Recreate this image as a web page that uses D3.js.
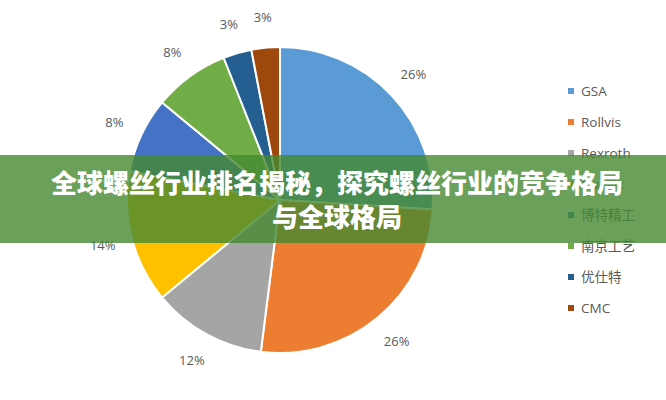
<!DOCTYPE html>
<html><head><meta charset="utf-8">
<script src="https://cdn.jsdelivr.net/npm/d3@7"></script>
<style>
html,body{margin:0;padding:0;background:#fff;}
svg{display:block;}
</style></head>
<body>
<svg id="c" width="666" height="400"></svg>
<script>
const categories = ["GSA","Rollvis","Rexroth","Ewellix","博特精工","南京工艺","优仕特","CMC"];
const values = [26,26,12,14,8,8,3,3];
const colors = ["#5B9BD5","#ED7D31","#A5A5A5","#FFC000","#4472C4","#70AD47","#255E91","#9E480E"];
const titleLines = ["全球螺丝行业排名揭秘，探究螺丝行业的竞争格局","与全球格局"];

const svg = d3.select("#c");
const W = 666, H = 400;
const cx = 280, cy = 200, R = 153;

const data = categories.map((c,i)=>({name:c, value:values[i], color:colors[i]}));
const pie = d3.pie().value(d=>d.value).sort(null);
const arcs = pie(data);
const arc = d3.arc().innerRadius(0).outerRadius(R);
const labelArc = d3.arc().innerRadius(R+30).outerRadius(R+30);

const g = svg.append("g").attr("transform",`translate(${cx},${cy})`);
g.selectAll("path.slice").data(arcs).enter().append("path")
  .attr("class","slice")
  .attr("d",arc)
  .attr("fill",d=>d.data.color)
  .attr("stroke","#fff")
  .attr("stroke-width",2)
  .attr("stroke-linejoin","round");

const total = d3.sum(values);
g.selectAll("text.lbl").data(arcs).enter().append("text")
  .attr("class","lbl")
  .attr("transform",d=>{const [x,y]=labelArc.centroid(d);return `translate(${x},${y})`;})
  .attr("text-anchor","middle")
  .attr("dy","0.35em")
  .attr("font-family","'Open Sans','Noto Sans',sans-serif")
  .attr("font-size",13)
  .attr("fill","#595959")
  .text(d=>Math.round(d.data.value/total*100)+"%");

// legend
const ly = d3.scalePoint().domain(categories).range([91,308]);
const leg = svg.append("g");
leg.selectAll("rect").data(data).enter().append("rect")
  .attr("x",568).attr("y",d=>ly(d.name)-3).attr("width",6).attr("height",6)
  .attr("fill",d=>d.color);
leg.selectAll("text").data(data).enter().append("text")
  .attr("x",581).attr("y",d=>ly(d.name)).attr("dy","0.35em")
  .attr("font-family","'Open Sans','Noto Sans CJK SC',sans-serif")
  .attr("font-size",13.5)
  .attr("fill","#595959")
  .text(d=>d.name);

// banner overlay
svg.append("rect").attr("x",0).attr("y",155).attr("width",W).attr("height",88)
  .attr("fill","#458831").attr("fill-opacity",0.8);
svg.selectAll("text.title").data(titleLines).enter().append("text")
  .attr("class","title")
  .attr("x",337)
  .attr("y",(d,i)=>184+i*34)
  .attr("dy","0.35em")
  .attr("text-anchor","middle")
  .attr("font-family","'Noto Sans CJK SC',sans-serif")
  .attr("font-weight",900)
  .attr("font-size",26)
  .attr("fill","#fff")
  .text(d=>d);
</script>
</body></html>
